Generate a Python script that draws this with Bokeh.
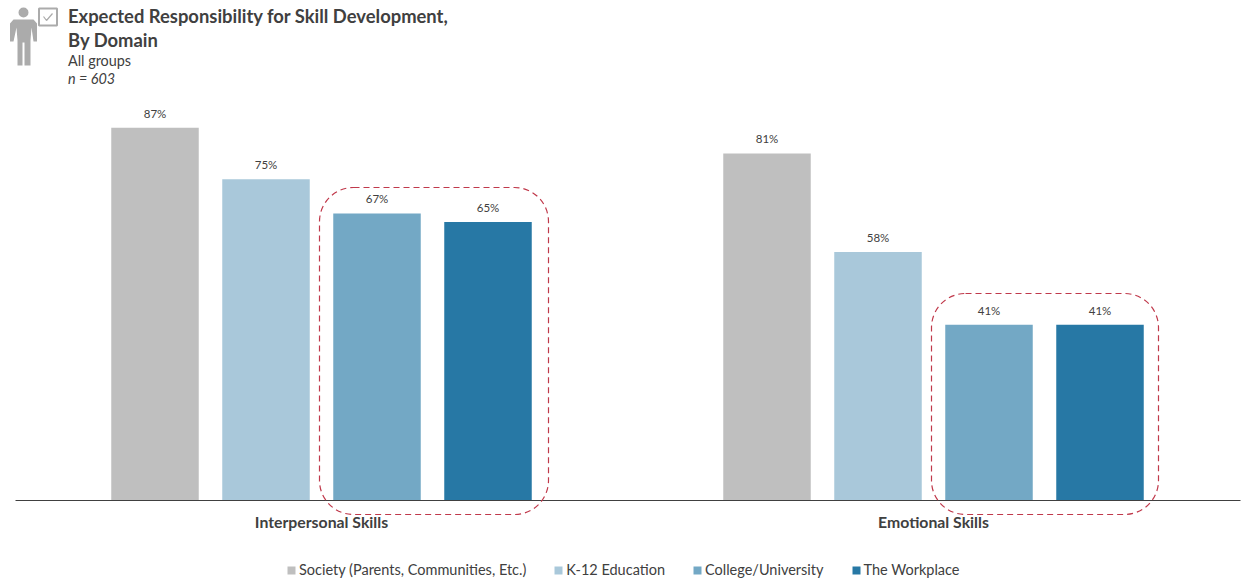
from bokeh.core.properties import value
from bokeh.embed import file_html
from bokeh.models import (BoxAnnotation, ColumnDataSource, FixedTicker, Label, Legend,
                          LegendItem, PolyAnnotation, Range1d)
from bokeh.plotting import figure
from bokeh.resources import INLINE

# Survey results, percent of respondents
domains = ["Interpersonal Skills", "Emotional Skills"]
society = [87, 81]
k12 = [75, 58]
college = [67, 41]
workplace = [65, 41]
series_names = ["Society (Parents, Communities, Etc.)", "K-12 Education",
                "College/University", "The Workplace"]
series_values = [society, k12, college, workplace]
series_colors = ["#BFBFBF", "#A9C8DA", "#73A8C5", "#2778A5"]

FONT = "Lato"
INK = "#404040"
W, H = 1245, 580
LEFT, RIGHT, BASE = 15, 1240, 500
PX = 1 / 612                        # x-range units per pixel
PCT = 4.285                         # pixels per percentage point

# The frame fills the page; the category axis sits inside it at zero
p = figure(width=W, height=H, output_backend="svg", toolbar_location=None,
           x_range=Range1d(-LEFT * PX, (W - LEFT) * PX),
           y_range=Range1d((BASE - H) / PCT, BASE / PCT),
           min_border=0, outline_line_color=None, background_fill_color="white")
p.grid.visible = False
p.yaxis.visible = False

centers = [i + 0.5 for i in range(len(domains))]
ax = p.xaxis[0]
ax.fixed_location = 0
ax.bounds = (0, (RIGHT - LEFT) * PX)
ax.ticker = FixedTicker(ticks=centers)
ax.major_label_overrides = {c: d for c, d in zip(centers, domains)}
ax.major_label_text_font = FONT
ax.major_label_text_font_style = "bold"
ax.major_label_text_font_size = "15.8px"
ax.major_label_text_color = INK
ax.major_label_standoff = 5
ax.major_tick_line_color = None
ax.minor_tick_line_color = None
ax.axis_line_color = INK
ax.axis_line_width = 1

items = []
step, bar_w = 111 * PX, 87.5 * PX
for k, (name, vals, col) in enumerate(zip(series_names, series_values, series_colors)):
    xs = [c + (k - 1.5) * step for c in centers]
    src = ColumnDataSource(dict(x=xs, top=vals, label=[f"{v}%" for v in vals]))
    r = p.vbar(x="x", top="top", width=bar_w, bottom=0, source=src, fill_color=col, line_color=None)
    p.text(x="x", y="top", text="label", source=src, text_align="center",
           text_baseline="middle", y_offset=-14.5, text_font=value(FONT),
           text_font_size="11.5px", text_color=INK)
    items.append(LegendItem(label=name, renderers=[r]))

# Dashed outlines around the two post-secondary bars of each group
for left, right, top, bottom in [(319, 548, 187, 514), (931, 1158, 293, 514)]:
    p.add_layout(BoxAnnotation(left=(left - LEFT) * PX, right=(right - LEFT) * PX,
                               top=(BASE - top) / PCT, bottom=(BASE - bottom) / PCT,
                               fill_alpha=0, line_color="#C0394B", line_alpha=1, line_width=1.2,
                               line_dash="6 4", border_radius=34, level="overlay"))

legend = Legend(items=items, orientation="horizontal", location=(286, 2),
                glyph_width=10, glyph_height=10, label_standoff=3, spacing=27,
                padding=0, margin=0, border_line_color=None, background_fill_alpha=0,
                label_text_font=FONT, label_text_font_size="14.5px", label_text_color=INK)
p.add_layout(legend, "center")

# Heading block
for text, x, y, size, style, color in [
    ("Expected Responsibility for Skill Development,", 67.5, 15, "18.4px", "bold", INK),
    ("By Domain", 67.5, 39, "18.4px", "bold", INK),
    ("All groups", 67.5, 60, "14.4px", "normal", INK),
    ("n = 603", 67.5, 78, "14.4px", "italic", INK),
]:
    p.add_layout(Label(x=x, y=H - y, x_units="screen", y_units="screen", text=text,
                       text_font=FONT, text_font_size=size, text_font_style=style,
                       text_color=color, text_baseline="middle"))

# Person icon with a ticked box beside it
ICON = "#ABABAB"
def sy(vals):
    return [H - v for v in vals]

p.add_layout(BoxAnnotation(left=18, right=28, top=H - 7, bottom=H - 17, left_units="screen",
                           right_units="screen", top_units="screen", bottom_units="screen",
                           fill_color=ICON, fill_alpha=1, line_color=None, border_radius=5))
body_x = [13, 33, 36.5, 36.5, 33, 31, 30, 30, 24, 24, 22, 22, 17, 17, 16, 13, 9.5, 9.5]
body_y = [19, 19, 23, 41, 41, 27, 40, 65, 65, 42, 42, 65, 65, 40, 27, 41, 41, 23]
p.add_layout(PolyAnnotation(xs=body_x, ys=sy(body_y), xs_units="screen", ys_units="screen",
                            fill_color=ICON, fill_alpha=1, line_color=None))
p.add_layout(BoxAnnotation(left=38.5, right=56.5, top=H - 8, bottom=H - 25, left_units="screen",
                           right_units="screen", top_units="screen", bottom_units="screen",
                           fill_alpha=0, line_color=ICON, line_alpha=1, line_width=2))
p.add_layout(PolyAnnotation(xs=[43, 46, 52, 46], ys=sy([16, 20, 13, 20]), xs_units="screen",
                            ys_units="screen", fill_alpha=0, line_color=ICON, line_alpha=1,
                            line_width=1.2))

open("out.html", "w").write(file_html(p, INLINE))
